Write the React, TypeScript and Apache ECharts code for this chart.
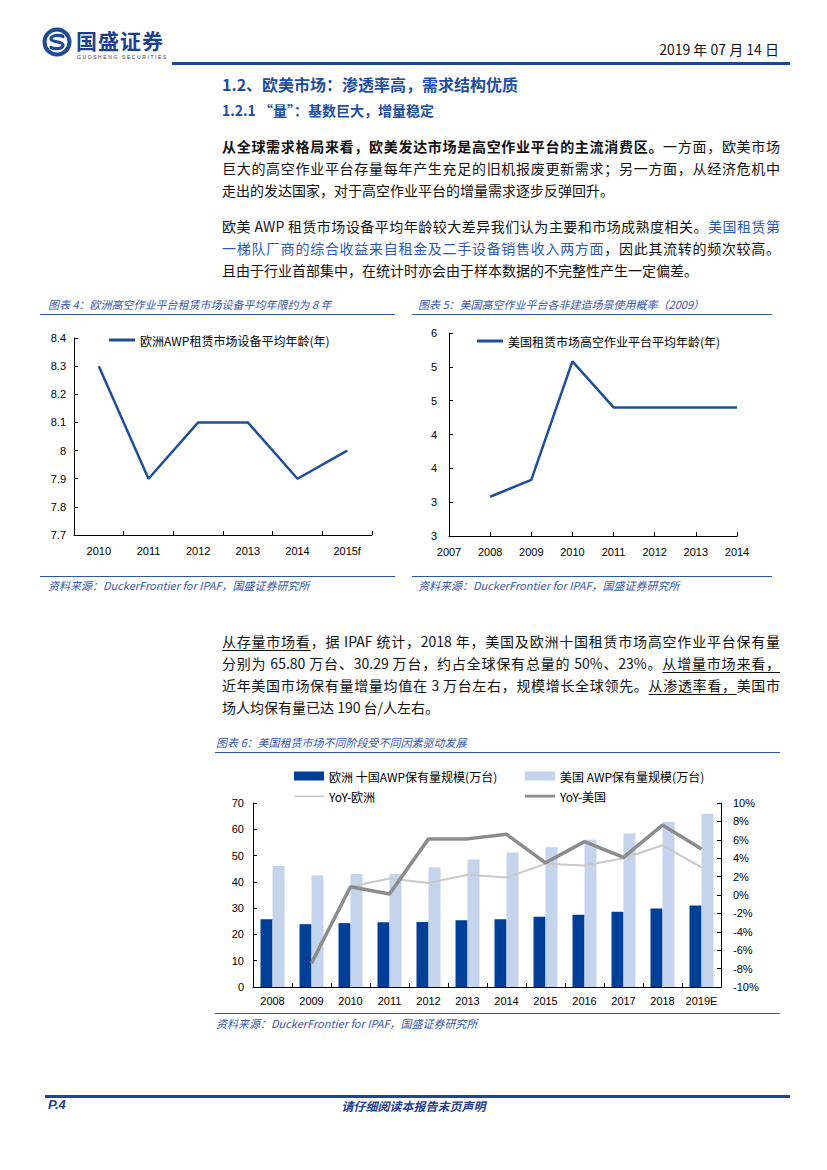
import React, { useEffect, useRef } from "react";
import * as echarts from "echarts";

// ---------- data ----------
const euYears = ["2010", "2011", "2012", "2013", "2014", "2015f"];
const euAge = [8.3, 7.9, 8.1, 8.1, 7.9, 8.0];

const usYears = ["2007", "2008", "2009", "2010", "2011", "2012", "2013", "2014"];
const usAge = [null, 3.58, 3.83, 5.58, 4.9, 4.9, 4.9, 4.9];

const fleetYears = ["2008", "2009", "2010", "2011", "2012", "2013", "2014", "2015", "2016", "2017", "2018", "2019E"];
const euFleet = [25.8, 23.9, 24.3, 24.6, 24.7, 25.4, 25.8, 26.7, 27.5, 28.6, 29.9, 31.0];
const usFleet = [46.0, 42.5, 43.0, 43.0, 45.6, 48.5, 51.2, 53.2, 56.0, 58.4, 62.8, 65.9];
const euYoY = [null, -7.4, 0.9, 1.8, 1.3, 2.2, 1.9, 3.4, 3.2, 4.0, 5.4, 3.0];
const usYoY = [null, -7.4, 0.9, 0.1, 6.1, 6.1, 6.6, 3.5, 5.8, 4.1, 7.6, 5.0];

const NAVY = "#1F4E96";
const TITLE_BLUE = "#3557A6";
const FONT_NUM = "'Liberation Sans', Arial, 'Noto Sans CJK SC', sans-serif";
const FONT_CJK = "'Noto Sans CJK SC', sans-serif";

// thin line legend icon inside a 30x9 box
const LINE_ICON_THIN = "path://M0 0h0.01v0.01h-0.01z M0 4h30v1.4H0z M29.99 8.99h0.01v0.01h-0.01z";
const LINE_ICON_THICK = "path://M0 0h0.01v0.01h-0.01z M0 3.3h30v2.6H0z M29.99 8.99h0.01v0.01h-0.01z";

function Chart({ option, style }: { option: any; style: React.CSSProperties }) {
  const ref = useRef<HTMLDivElement>(null);
  useEffect(() => {
    if (!ref.current) return;
    const c = echarts.init(ref.current, undefined, { renderer: "svg" });
    c.setOption(option);
    return () => c.dispose();
  }, []);
  return <div ref={ref} style={{ position: "absolute", ...style }} />;
}

const axisBase = {
  axisLine: { show: true, lineStyle: { color: "#000", width: 1 } },
  axisTick: { show: true, inside: true, length: 4, lineStyle: { color: "#000" } },
  splitLine: { show: false },
};

const chart4: any = {
  animation: false,
  textStyle: { fontFamily: FONT_NUM },
  legend: {
    left: 104, top: 14, itemWidth: 26, itemHeight: 3, icon: "rect",
    textStyle: { fontSize: 12, color: "#000", fontFamily: FONT_CJK },
    data: ["欧洲AWP租赁市场设备平均年龄(年)"],
  },
  grid: { left: 74, top: 23, width: 298, height: 197 },
  xAxis: {
    type: "category", data: euYears, boundaryGap: true, ...axisBase,
    axisLabel: { fontSize: 11, color: "#000", margin: 10, interval: 0 },
  },
  yAxis: {
    type: "value", min: 7.7, max: 8.4, interval: 0.1, ...axisBase,
    axisLabel: { fontSize: 11, color: "#000", margin: 8, formatter: (v: number) => String(Number(v.toFixed(1))) },
  },
  series: [{
    name: "欧洲AWP租赁市场设备平均年龄(年)", type: "line", data: euAge, symbol: "none",
    lineStyle: { color: NAVY, width: 2.5 }, itemStyle: { color: NAVY },
  }],
};

const chart5: any = {
  animation: false,
  textStyle: { fontFamily: FONT_NUM },
  legend: {
    left: 59, top: 15, itemWidth: 26, itemHeight: 3, icon: "rect",
    textStyle: { fontSize: 12, color: "#000", fontFamily: FONT_CJK },
    data: ["美国租赁市场高空作业平台平均年龄(年)"],
  },
  grid: { left: 36, top: 18, width: 288, height: 203 },
  xAxis: {
    type: "category", data: usYears, boundaryGap: false, ...axisBase,
    axisLabel: { fontSize: 11, color: "#000", margin: 10, interval: 0 },
  },
  yAxis: {
    type: "value", min: 3, max: 6, interval: 0.5, ...axisBase,
    axisLabel: { fontSize: 11, color: "#000", margin: 12, formatter: (v: number) => String(Math.floor(v + 1e-9)) },
  },
  series: [{
    name: "美国租赁市场高空作业平台平均年龄(年)", type: "line", data: usAge, symbol: "none",
    lineStyle: { color: NAVY, width: 2.5 }, itemStyle: { color: NAVY },
  }],
};

const EU_BAR = "欧洲 十国AWP保有量规模(万台)";
const US_BAR = "美国 AWP保有量规模(万台)";
const legendText = { fontSize: 12, color: "#000", fontFamily: FONT_CJK };

const chart6: any = {
  animation: false,
  textStyle: { fontFamily: FONT_NUM },
  legend: [
    {
      left: 89, top: 8, orient: "vertical", itemGap: 8, itemWidth: 30, itemHeight: 9,
      textStyle: legendText,
      data: [{ name: EU_BAR, icon: "rect" }, { name: "YoY-欧洲", icon: LINE_ICON_THIN }],
    },
    {
      left: 320, top: 8, orient: "vertical", itemGap: 8, itemWidth: 30, itemHeight: 9,
      textStyle: legendText,
      data: [{ name: US_BAR, icon: "rect" }, { name: "YoY-美国", icon: LINE_ICON_THICK }],
    },
  ],
  grid: { left: 53, top: 46, width: 468, height: 184 },
  xAxis: {
    type: "category", data: fleetYears, boundaryGap: true, ...axisBase,
    axisLabel: { fontSize: 11, color: "#000", margin: 8, interval: 0 },
  },
  yAxis: [
    {
      type: "value", min: 0, max: 70, interval: 10, ...axisBase,
      axisLabel: { fontSize: 11, color: "#000", margin: 9 },
    },
    {
      type: "value", min: -10, max: 10, interval: 2, position: "right", ...axisBase,
      axisLabel: { fontSize: 11, color: "#000", margin: 12, formatter: (v: number) => `${Math.round(v)}%` },
    },
  ],
  series: [
    { name: EU_BAR, type: "bar", data: euFleet, barWidth: 12, barGap: "0%", itemStyle: { color: "#003F98" } },
    { name: US_BAR, type: "bar", data: usFleet, barWidth: 12, barGap: "0%", itemStyle: { color: "#C4D4EC" } },
    {
      name: "YoY-欧洲", type: "line", yAxisIndex: 1, data: euYoY, symbol: "none",
      lineStyle: { color: "#C9C9C9", width: 2 }, itemStyle: { color: "#C9C9C9" },
    },
    {
      name: "YoY-美国", type: "line", yAxisIndex: 1, data: usYoY, symbol: "none",
      lineStyle: { color: "#8C8C8C", width: 3.5 }, itemStyle: { color: "#8C8C8C" },
    },
  ],
};

// ---------- text helpers ----------
const bodyStyle: React.CSSProperties = {
  position: "absolute", left: 222, width: 558, fontSize: 14, lineHeight: "22px",
  fontFamily: FONT_CJK, color: "#111", whiteSpace: "nowrap",
};

function JLine({ top, last, children }: { top: number; last?: boolean; children: React.ReactNode }) {
  return (
    <div style={{ ...bodyStyle, top, textAlign: "justify", textAlignLast: last ? "left" : "justify" } as any}>
      {children}
    </div>
  );
}

const capStyle: React.CSSProperties = {
  position: "absolute", fontSize: 11, lineHeight: "14px", fontStyle: "italic", color: TITLE_BLUE,
  fontFamily: FONT_CJK, whiteSpace: "nowrap",
};

function HLine({ left, top, width, h = 1, color = "#2F54A0" }: any) {
  return <div style={{ position: "absolute", left, top, width, height: h, background: color }} />;
}

export default function App() {
  const b = { fontWeight: 700 } as React.CSSProperties;
  const blue = { color: "#2E5BB0" } as React.CSSProperties;
  const u = { textDecoration: "underline", textUnderlineOffset: 3 } as React.CSSProperties;
  return (
    <div style={{ position: "absolute", left: 0, top: 0, width: 827, height: 1170, background: "#fff", overflow: "hidden" }}>
      {/* logo */}
      <svg style={{ position: "absolute", left: 42, top: 27 }} width="30" height="30" viewBox="0 0 30 30">
        <circle cx="15" cy="15" r="12.5" fill="none" stroke="#1E4A98" strokeWidth="4" />
        <path d="M21 9.5 C17 7.5 9 8 9 12 C9 15.5 21 14 21 18 C21 22 13 22.5 9 20.5" fill="none" stroke="#1E4A98" strokeWidth="3.2" strokeLinecap="round" />
      </svg>
      <div style={{ position: "absolute", left: 76, top: 29, fontSize: 21, lineHeight: "23px", fontWeight: 700, color: "#1E3F8C", fontFamily: FONT_CJK, letterSpacing: 1 }}>国盛证券</div>
      <div style={{ position: "absolute", left: 77, top: 54, fontSize: 5, lineHeight: "6px", letterSpacing: 1.6, color: "#333", fontFamily: FONT_NUM }}>GUOSHENG SECURITIES</div>
      <div style={{ position: "absolute", right: 48, top: 39, fontSize: 14, color: "#111", fontFamily: FONT_CJK, whiteSpace: "nowrap" }}>2019 年 07 月 14 日</div>
      <HLine left={172} top={62} width={618} h={3} color="#1F4690" />

      {/* headings */}
      <div style={{ position: "absolute", left: 222, top: 72, fontSize: 16, fontWeight: 700, color: "#1F4E9E", fontFamily: FONT_CJK, whiteSpace: "nowrap" }}>1.2、欧美市场：渗透率高，需求结构优质</div>
      <div style={{ position: "absolute", left: 222, top: 100, fontSize: 14, fontWeight: 700, color: "#1F4E9E", fontFamily: FONT_CJK, whiteSpace: "nowrap" }}>1.2.1 “量”：基数巨大，增量稳定</div>

      {/* paragraph 1 */}
      <JLine top={135}><span style={b}>从全球需求格局来看，欧美发达市场是高空作业平台的主流消费区。</span>一方面，欧美市场</JLine>
      <JLine top={157}>巨大的高空作业平台存量每年产生充足的旧机报废更新需求；另一方面，从经济危机中</JLine>
      <JLine top={179} last>走出的发达国家，对于高空作业平台的增量需求逐步反弹回升。</JLine>

      {/* paragraph 2 */}
      <JLine top={215}>欧美 AWP 租赁市场设备平均年龄较大差异我们认为主要和市场成熟度相关。<span style={blue}>美国租赁第</span></JLine>
      <JLine top={237}><span style={blue}>一梯队厂商的综合收益来自租金及二手设备销售收入两方面</span>，因此其流转的频次较高。</JLine>
      <JLine top={259} last>且由于行业首部集中，在统计时亦会由于样本数据的不完整性产生一定偏差。</JLine>

      {/* chart 4 */}
      <div style={{ ...capStyle, left: 48, top: 297 }}>图表 4：欧洲高空作业平台租赁市场设备平均年限约为 8 年</div>
      <HLine left={40} top={314} width={355} />
      <Chart option={chart4} style={{ left: 0, top: 315, width: 410, height: 258 }} />
      <HLine left={40} top={576} width={355} />
      <div style={{ ...capStyle, left: 48, top: 578 }}>资料来源：DuckerFrontier for IPAF，国盛证券研究所</div>

      {/* chart 5 */}
      <div style={{ ...capStyle, left: 418, top: 297 }}>图表 5：美国高空作业平台各非建造场景使用概率（2009）</div>
      <HLine left={412} top={314} width={360} />
      <Chart option={chart5} style={{ left: 413, top: 315, width: 414, height: 258 }} />
      <HLine left={412} top={576} width={360} />
      <div style={{ ...capStyle, left: 418, top: 578 }}>资料来源：DuckerFrontier for IPAF，国盛证券研究所</div>

      {/* paragraph 3 */}
      <JLine top={630}><span style={u}>从存量市场看</span>，据 IPAF 统计，2018 年，美国及欧洲十国租赁市场高空作业平台保有量</JLine>
      <JLine top={652}>分别为 65.80 万台、30.29 万台，约占全球保有总量的 50%、23%。<span style={u}>从增量市场来看，</span></JLine>
      <JLine top={674}>近年美国市场保有量增量均值在 3 万台左右，规模增长全球领先。<span style={u}>从渗透率看，</span>美国市</JLine>
      <JLine top={696} last>场人均保有量已达 190 台/人左右。</JLine>

      {/* chart 6 */}
      <div style={{ ...capStyle, left: 216, top: 735 }}>图表 6：美国租赁市场不同阶段受不同因素驱动发展</div>
      <HLine left={215} top={752} width={565} />
      <Chart option={chart6} style={{ left: 200, top: 757, width: 627, height: 254 }} />
      <HLine left={215} top={1013} width={565} />
      <div style={{ ...capStyle, left: 216, top: 1016 }}>资料来源：DuckerFrontier for IPAF，国盛证券研究所</div>

      {/* footer */}
      <HLine left={45} top={1095} width={745} h={3} color="#1F4690" />
      <div style={{ position: "absolute", left: 48, top: 1097, fontSize: 13, fontWeight: 700, fontStyle: "italic", color: "#1E3F8C", fontFamily: FONT_NUM }}>P.4</div>
      <div style={{ position: "absolute", left: 0, width: 827, textAlign: "center", top: 1097, fontSize: 12, fontWeight: 700, fontStyle: "italic", color: "#1E3F8C", fontFamily: FONT_CJK }}>请仔细阅读本报告末页声明</div>
    </div>
  );
}
